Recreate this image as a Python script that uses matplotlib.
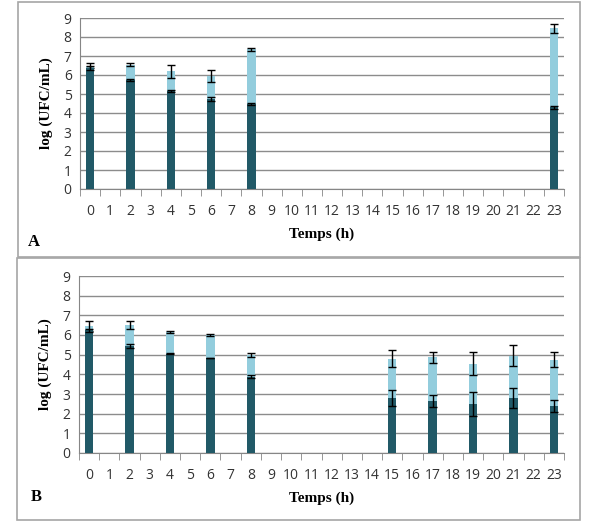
import matplotlib.pyplot as plt
from matplotlib.patches import Rectangle
from matplotlib.ticker import FixedLocator

hours = list(range(24))

# panel A
a_x = [0, 2, 4, 6, 8, 23]
a_light = [6.5, 6.55, 6.2, 5.95, 7.35, 8.45]
a_light_err = [0.15, 0.1, 0.35, 0.3, 0.08, 0.22]
a_dark = [6.35, 5.72, 5.15, 4.75, 4.47, 4.3]
a_dark_err = [0.1, 0.05, 0.05, 0.1, 0.07, 0.07]

# panel B
b_x = [0, 2, 4, 6, 8, 15, 17, 19, 21, 23]
b_light = [6.45, 6.5, 6.15, 6.0, 4.98, 4.8, 4.88, 4.55, 4.95, 4.75]
b_light_err = [0.25, 0.2, 0.05, 0.05, 0.1, 0.45, 0.28, 0.6, 0.55, 0.4]
b_dark = [6.25, 5.45, 5.05, 4.83, 3.88, 2.78, 2.65, 2.5, 2.8, 2.4]
b_dark_err = [0.08, 0.1, 0.02, 0.02, 0.07, 0.4, 0.3, 0.6, 0.5, 0.3]

light_col = '#93cddd'
dark_col = '#215967'
W, H = 614, 525


def panel(ax, xs, light, light_err, dark, dark_err):
    ax.bar(xs, light, width=0.42, color=light_col, zorder=2)
    ax.errorbar(xs, light, yerr=light_err, fmt='none', ecolor='black',
                elinewidth=1, capsize=3, capthick=1, zorder=3)
    ax.bar(xs, dark, width=0.42, color=dark_col, zorder=4)
    ax.errorbar(xs, dark, yerr=dark_err, fmt='none', ecolor='black',
                elinewidth=1, capsize=3, capthick=1, zorder=5)
    ax.set_xlim(-0.5, 23.5)
    ax.set_ylim(0, 9)
    ax.set_yticks(range(10))
    ax.set_xticks(hours)
    ax.xaxis.set_minor_locator(FixedLocator([h - 0.5 for h in range(25)]))
    ax.tick_params(axis='x', which='major', length=0, pad=11, labelsize=10)
    ax.tick_params(axis='x', which='minor', length=5, color='#868686', direction='out')
    ax.tick_params(axis='y', length=0, labelsize=10, pad=6)
    for lab in ax.get_xticklabels() + ax.get_yticklabels():
        lab.set_family('Open Sans')
        lab.set_color('#333333')
    ax.grid(axis='y', color='#8c8c8c', linewidth=1, zorder=0)
    for s in ['top', 'right']:
        ax.spines[s].set_visible(False)
    ax.spines['left'].set_color('#868686')
    ax.spines['bottom'].set_color('#868686')
    ax.set_ylabel('log (UFC/mL)', fontfamily='Liberation Serif',
                  fontweight='bold', fontsize=11, labelpad=8)
    ax.set_xlabel('Temps (h)', fontfamily='Liberation Serif',
                  fontweight='bold', fontsize=11, labelpad=6)


fig = plt.figure(figsize=(W / 100, H / 100), dpi=100)

# panel frames
fig.add_artist(Rectangle((18 / W, 1 - 257 / H), 562 / W, 255 / H,
                         transform=fig.transFigure, fill=False,
                         edgecolor='#a6a6a6', linewidth=1.2))
fig.add_artist(Rectangle((17 / W, 1 - 520 / H), 563 / W, 262 / H,
                         transform=fig.transFigure, fill=False,
                         edgecolor='#a6a6a6', linewidth=1.2))

ax1 = fig.add_axes([80 / W, 1 - 189 / H, 484 / W, 171 / H])
panel(ax1, a_x, a_light, a_light_err, a_dark, a_dark_err)
ax2 = fig.add_axes([79 / W, 1 - 453 / H, 485 / W, 177 / H])
panel(ax2, b_x, b_light, b_light_err, b_dark, b_dark_err)

fig.text(34 / W, 1 - 242 / H, 'A', fontfamily='Liberation Serif',
         fontweight='bold', fontsize=12, va='center', ha='center')
fig.text(36 / W, 1 - 497 / H, 'B', fontfamily='Liberation Serif',
         fontweight='bold', fontsize=12, va='center', ha='center')

fig.savefig('out.png', dpi=100)
